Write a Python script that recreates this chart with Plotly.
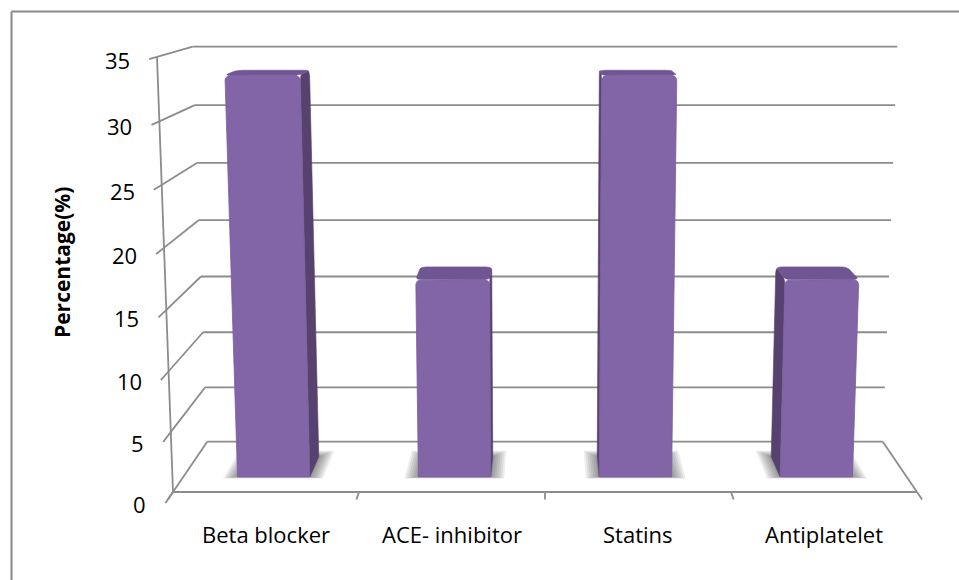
import math
import plotly.graph_objects as go

# ---- data -------------------------------------------------------------
categories = ["Beta blocker", "ACE- inhibitor", "Statins", "Antiplatelet"]
percentages = [33.3, 16.7, 33.3, 16.7]
value_ticks = [0, 5, 10, 15, 20, 25, 30, 35]
value_title = "Percentage(%)"

# ---- 3-D frame projection ---------------------------------------------
# world coords: category position (0..n), value, depth (0 = front, 1 = back)
W, H = 959, 580
N = len(categories)
VMAX = value_ticks[-1]
CX = 545.0           # page x of the frame centre line
CAT_PX = 186.0       # width of one category slot on the front edge
BASE_Y = 492.0       # page y of the front floor edge
VP = (545.0, -55.0)  # depth vanishing point
SHRINK = 0.092       # relative shrink from front to back wall


def front_plane(xc, v):
    fx = CX + (xc - N / 2) * CAT_PX * (1 + 0.043 * v / VMAX)
    fy = BASE_Y - 11.9 * v - 0.0152 * v * v
    return fx, fy


def proj(xc, v, z):
    fx, fy = front_plane(xc, v)
    s = 1 - SHRINK * z
    return VP[0] + s * (fx - VP[0]), VP[1] + s * (fy - VP[1])


def segs(pairs):
    xs, ys = [], []
    for a, b in pairs:
        pa, pb = proj(*a), proj(*b)
        xs += [pa[0], pb[0], None]
        ys += [pa[1], pb[1], None]
    return xs, ys


def poly(pts):
    p = [proj(*q) for q in pts]
    p.append(p[0])
    return [q[0] for q in p], [q[1] for q in p]


def rounded_rect(a0, a1, b0, b1, ra, rb, corners, to_world, steps=6):
    """Outline of a rectangle in a face plane (a, b) with chosen corners rounded."""
    pts = []
    spec = [((a0, b0), (+1, +1), math.pi, "ll"),
            ((a1, b0), (-1, +1), 1.5 * math.pi, "lr"),
            ((a1, b1), (-1, -1), 0.0, "ur"),
            ((a0, b1), (+1, -1), 0.5 * math.pi, "ul")]
    for (ca, cb), (sa, sb), start, name in spec:
        if name in corners:
            oa, ob = ca + sa * ra, cb + sb * rb
            for k in range(steps + 1):
                t = start + 0.5 * math.pi * k / steps
                pts.append(to_world(oa + ra * math.cos(t), ob + rb * math.sin(t)))
        else:
            pts.append(to_world(ca, cb))
    return poly(pts)


fig = go.Figure()

GRID = "#8c8c8c"

# walls and floor gridlines
pairs = []
for v in value_ticks:
    pairs.append(((0, v, 0), (0, v, 1)))      # side wall
    pairs.append(((0, v, 1), (N, v, 1)))      # back wall
pairs.append(((0, 0, 0), (N, 0, 0)))          # front floor edge
pairs.append(((N, 0, 0), (N, 0, 1)))          # right floor edge
pairs.append(((0, 0, 0), (0, VMAX, 0)))       # value axis
for v in value_ticks:
    pairs.append(((0, v, 0), (0, v, -0.22)))  # value tick marks
for k in range(N + 1):
    pairs.append(((k, 0, 0), (k, 0, -0.15)))  # category tick marks
gx, gy = segs(pairs)
fig.add_trace(go.Scatter(x=gx, y=gy, mode="lines",
                         line=dict(color=GRID, width=1.8),
                         hoverinfo="skip"))

# soft shadows on the floor under each column
BAR_HALF = 0.2
Z0, Z1 = 0.3, 0.7
for i, val in enumerate(percentages):
    x0, x1 = i + 0.5 - BAR_HALF, i + 0.5 + BAR_HALF
    for k in range(7):
        ex = 0.075 * (1 - k / 7)
        zf = 0.03 * (1 - k / 7)
        zb = 0.12 * (1 - k / 7)
        sx, sy = poly([(x0 - ex, 0, Z0 - zf), (x1 + ex, 0, Z0 - zf),
                       (x1 + ex, 0, Z1 + zb), (x0 - ex, 0, Z1 + zb)])
        fig.add_trace(go.Scatter(x=sx, y=sy, mode="none", fill="toself",
                                 fillcolor="rgba(50,50,50,0.085)",
                                 hoverinfo="skip"))

# columns
FRONT = "#8265a6"
SIDE = "#56416f"
TOP = "#6f5693"
RX, RV, RZ = 0.03, 0.45, 0.07
for i, val in enumerate(percentages):
    x0, x1 = i + 0.5 - BAR_HALF, i + 0.5 + BAR_HALF
    xs_side = x1 if i + 0.5 < N / 2 else x0
    # side face in the (depth, value) plane
    sx, sy = rounded_rect(Z0, Z1, 0, val, RZ, RV, {"ur", "ul"},
                          lambda a, b, xs=xs_side: (xs, b, a))
    fig.add_trace(go.Scatter(x=sx, y=sy, mode="lines", fill="toself",
                             fillcolor=SIDE, line=dict(width=0.6, color=SIDE),
                             hoverinfo="skip"))
    # top face in the (category, depth) plane
    tx, ty = rounded_rect(x0, x1, Z0, Z1, RX, RZ, {"ll", "lr", "ur", "ul"},
                          lambda a, b, v=val: (a, v, b))
    fig.add_trace(go.Scatter(x=tx, y=ty, mode="lines", fill="toself",
                             fillcolor=TOP, line=dict(width=0.6, color=TOP),
                             hoverinfo="skip"))
    # front face in the (category, value) plane
    fx, fy = rounded_rect(x0, x1, 0, val, RX, RV, {"ur", "ul"},
                          lambda a, b: (a, b, Z0))
    fig.add_trace(go.Scatter(x=fx, y=fy, mode="lines", fill="toself",
                             fillcolor=FRONT, line=dict(width=0.8, color="#7a5e9d"),
                             hoverinfo="skip"))

FONT = "'Open Sans', 'Noto Sans', sans-serif"
annotations = []
for v in value_ticks:
    px, py = proj(0, v, -0.22)
    annotations.append(dict(x=px - 17, y=py + 1, text=str(v), showarrow=False,
                            xanchor="right", yanchor="middle",
                            font=dict(family=FONT, size=22, color="#000000")))
for i, name in enumerate(categories):
    px, _ = proj(i + 0.5, 0, 0)
    annotations.append(dict(x=px, y=534, text=name, showarrow=False,
                            xanchor="center", yanchor="middle",
                            font=dict(family=FONT, size=22, color="#000000")))
annotations.append(dict(x=62, y=263, text=f"<b>{value_title}</b>", showarrow=False,
                        textangle=-90, xanchor="center", yanchor="middle",
                        font=dict(family=FONT, size=21, color="#000000")))

# chart area border (left and top edges lie inside the page)
shapes = [dict(type="line", x0=11.5, y0=H + 2, x1=11.5, y1=11.5,
               line=dict(color="#8a8a8a", width=2)),
          dict(type="line", x0=11.5, y0=11.5, x1=W + 2, y1=11.5,
               line=dict(color="#8a8a8a", width=2))]

fig.update_layout(
    width=W, height=H,
    margin=dict(l=0, r=0, t=0, b=0),
    paper_bgcolor="white", plot_bgcolor="white",
    showlegend=False,
    xaxis=dict(range=[0, W], visible=False, fixedrange=True),
    yaxis=dict(range=[H, 0], visible=False, fixedrange=True),
    annotations=annotations,
    shapes=shapes,
)

fig.write_html("out.html")
